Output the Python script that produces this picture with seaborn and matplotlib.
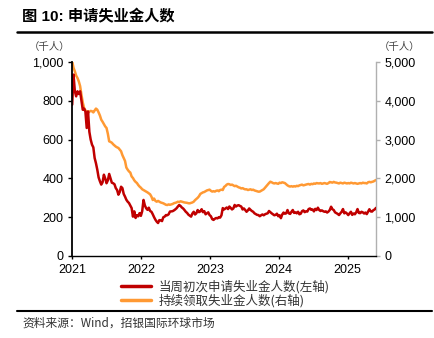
import numpy as np
import pandas as pd
import matplotlib
matplotlib.use("Agg")
import matplotlib.pyplot as plt
import seaborn as sns
from matplotlib.lines import Line2D
from matplotlib.ticker import FuncFormatter

# ---------------- data (thousands of persons, weekly, Saturdays) ----------------
start_date = "2021-01-02"

initial_claims = [
    # 2021
    780, 935, 850, 823, 849, 835, 849, 800, 754, 760, 745, 660, 745,
    640, 600, 574, 560, 505, 478, 445, 405, 385, 368, 380, 419, 400,
    375, 390, 423, 400, 378, 375, 370, 350, 340, 316, 330, 357, 350,
    320, 306, 290, 280, 273, 260, 247, 203, 230, 196, 210, 205, 221,
    # 2022
    207, 231, 289, 261, 246, 238, 249, 232, 228, 215, 200, 187, 177,
    170, 185, 184, 180, 200, 203, 211, 210, 215, 229, 230, 231, 235,
    240, 246, 255, 263, 258, 250, 245, 237, 228, 222, 213, 208, 203,
    219, 228, 214, 220, 237, 226, 230, 241, 226, 231, 215, 220, 225, 211,
    # 2023
    205, 190, 186, 192, 196, 194, 200, 198, 210, 247, 240, 245, 250,
    242, 255, 248, 240, 245, 263, 255, 260, 262, 258, 255, 240, 245,
    237, 228, 235, 245, 238, 232, 228, 220, 216, 212, 211, 205, 210,
    214, 210, 215, 218, 220, 232, 226, 220, 215, 210, 212, 218, 205,
    # 2024
    210, 195, 214, 224, 218, 220, 237, 220, 217, 228, 237, 222, 225,
    220, 228, 215, 218, 231, 235, 226, 230, 229, 242, 245, 238, 240,
    230, 243, 237, 249, 237, 232, 235, 231, 228, 230, 224, 229, 237,
    254, 241, 237, 225, 221, 217, 211, 220, 228, 242, 220, 225, 219,
    # 2025
    211, 220, 228, 212, 219, 215, 225, 242, 222, 221, 228, 225, 219,
    224, 216, 228, 241, 230, 229, 236, 240, 248,
]

continuing_claims = [
    # 2021
    5017, 4850, 4760, 4650, 4588, 4500, 4380, 4157, 3960, 3814, 3750, 3730, 3720,
    3720, 3740, 3730, 3700, 3750, 3800, 3771, 3700, 3620, 3513, 3460, 3400, 3340,
    3299, 3150, 2956, 2940, 2920, 2880, 2850, 2820, 2800, 2784, 2740, 2700, 2600,
    2526, 2450, 2280, 2225, 2180, 2150, 2050, 2010, 1950, 1910, 1881, 1830, 1790,
    # 2022
    1760, 1720, 1701, 1680, 1660, 1640, 1615, 1590, 1530, 1443, 1480, 1420, 1400,
    1420, 1400, 1380, 1370, 1358, 1340, 1320, 1314, 1330, 1320, 1330, 1340, 1360,
    1370, 1380, 1400, 1390, 1410, 1400, 1390, 1380, 1375, 1370, 1360, 1358, 1370,
    1380, 1400, 1440, 1470, 1500, 1540, 1600, 1620, 1640, 1650, 1670, 1690, 1700, 1710,
    # 2023
    1680, 1660, 1670, 1660, 1680, 1690, 1670, 1700, 1710, 1700, 1780, 1804, 1840,
    1856, 1850, 1830, 1840, 1820, 1800, 1810, 1790, 1770, 1760, 1740, 1750, 1730,
    1718, 1720, 1700, 1710, 1720, 1700, 1710, 1690, 1680, 1670, 1658, 1660, 1680,
    1700, 1720, 1760, 1800, 1840, 1880, 1915, 1900, 1880, 1870, 1880, 1870, 1860,
    # 2024
    1890, 1880, 1900, 1890, 1880, 1850, 1820, 1800, 1790, 1800, 1787, 1800, 1790,
    1810, 1800, 1820, 1830, 1840, 1820, 1830, 1840, 1850, 1856, 1840, 1860, 1850,
    1870, 1860, 1880, 1873, 1870, 1880, 1860, 1870, 1880, 1870, 1860, 1880, 1907,
    1900, 1890, 1910, 1895, 1890, 1880, 1870, 1890, 1880, 1870, 1890, 1880, 1870,
    # 2025
    1880, 1870, 1890, 1880, 1870, 1880, 1870, 1860, 1870, 1880, 1870, 1890, 1880,
    1880, 1870, 1900, 1910, 1900, 1910, 1920, 1940, 1959,
]

title = "图 10: 申请失业金人数"
source = "资料来源：Wind，招银国际环球市场"
unit_label = "（千人）"
series_names = ["当周初次申请失业金人数(左轴)", "持续领取失业金人数(右轴)"]
year_ticks = ["2021", "2022", "2023", "2024", "2025"]
left_ticks = [0, 200, 400, 600, 800, 1000]
right_ticks = [0, 1000, 2000, 3000, 4000, 5000]

RED = "#C00000"
ORANGE = "#FF9933"

# ---------------- figure ----------------
sns.set_theme(style="white")
plt.rcParams['font.family'] = ['Liberation Sans', 'Noto Sans CJK SC', 'DejaVu Sans']
CJK = ['Noto Sans CJK SC', 'Liberation Sans', 'DejaVu Sans']

dates = pd.date_range(start_date, periods=len(initial_claims), freq="W-SAT")
df = pd.DataFrame({"date": dates,
                   "initial": initial_claims,
                   "continuing": continuing_claims})

W, H = 434, 338
fig = plt.figure(figsize=(W / 100, H / 100), dpi=100)
ax = fig.add_axes([72 / W, 1 - 256 / H, 304 / W, 194 / H])
ax2 = ax.twinx()

sns.lineplot(data=df, x="date", y="continuing", ax=ax2, color=ORANGE, lw=1.8)
sns.lineplot(data=df, x="date", y="initial", ax=ax, color=RED, lw=1.8)
ax.set_zorder(ax2.get_zorder() + 1)
ax.patch.set_visible(False)

ax.set_xlim(pd.Timestamp("2021-01-01"), dates[-1])
ax.set_ylim(left_ticks[0], left_ticks[-1])
ax2.set_ylim(right_ticks[0], right_ticks[-1])

ax.set_xticks(pd.to_datetime([f"{y}-01-01" for y in year_ticks]))
ax.set_xticklabels(year_ticks)
ax.set_yticks(left_ticks)
ax2.set_yticks(right_ticks)
fmt = FuncFormatter(lambda v, p: f"{int(v):,}")
ax.yaxis.set_major_formatter(fmt)
ax2.yaxis.set_major_formatter(fmt)

for a in (ax, ax2):
    a.set_xlabel("")
    a.set_ylabel("")
    a.grid(False)

ax.spines['top'].set_visible(False)
ax.spines['right'].set_visible(False)
ax.spines['left'].set_color('black')
ax.spines['left'].set_linewidth(1.3)
ax.spines['bottom'].set_color('black')
ax.spines['bottom'].set_linewidth(1.0)
for s in ('top', 'left', 'bottom'):
    ax2.spines[s].set_visible(False)
ax2.spines['right'].set_color('#b0b0b0')
ax2.spines['right'].set_linewidth(1.0)

ax.tick_params(axis='y', left=True, direction='out', length=3, width=1,
               color='black', pad=3, labelsize=9, labelcolor='black')
ax.tick_params(axis='x', bottom=True, direction='out', length=2, width=1,
               color='black', pad=4, labelsize=9, labelcolor='black')
ax2.tick_params(axis='y', right=True, direction='out', length=3, width=1,
                color='#b0b0b0', pad=3, labelsize=9, labelcolor='black')

# unit labels
fig.text(50 / W, 1 - 47 / H, unit_label, ha='center', va='center',
         fontsize=7.5, color='#444444', family=CJK)
fig.text(400 / W, 1 - 47 / H, unit_label, ha='center', va='center',
         fontsize=7.5, color='#444444', family=CJK)

# title and rules
fig.text(22 / W, 1 - 17 / H, title, ha='left', va='center', fontsize=11,
         fontweight='bold', color='black')
fig.add_artist(Line2D([17 / W, 432 / W], [1 - 32 / H] * 2, color='black',
                      lw=1.8, transform=fig.transFigure))
fig.add_artist(Line2D([17 / W, 432 / W], [1 - 311 / H] * 2, color='black',
                      lw=1.5, transform=fig.transFigure))

# legend
handles = [Line2D([], [], color=RED, lw=2.5), Line2D([], [], color=ORANGE, lw=2.5)]
fig.legend(handles, series_names, loc='center',
           bbox_to_anchor=(225 / W, 1 - 294 / H), frameon=False,
           prop={'family': CJK, 'size': 9}, labelcolor='#333333',
           handlelength=2.4, handletextpad=0.6, labelspacing=0.05,
           borderaxespad=0, borderpad=0)

# source
fig.text(22 / W, 1 - 323 / H, source, ha='left', va='center', fontsize=8.5,
         color='#333333', family=CJK)

fig.savefig("out.png", dpi=100)
